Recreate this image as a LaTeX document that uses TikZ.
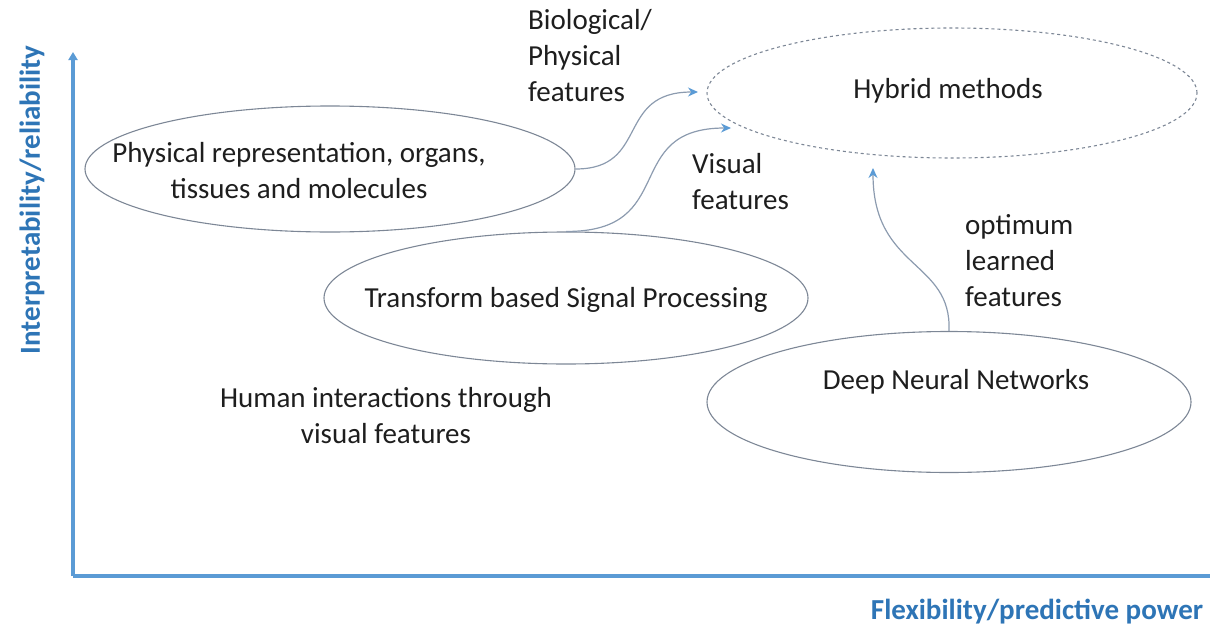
\documentclass[tikz,border=0pt]{standalone}
\usepackage{fontspec}
\setmainfont{Carlito}
\usetikzlibrary{shapes.geometric,arrows.meta}
\definecolor{axisblue}{RGB}{91,155,213}
\definecolor{labelblue}{RGB}{46,117,182}
\definecolor{ellgray}{RGB}{125,135,150}
\definecolor{conngray}{RGB}{140,155,175}
\definecolor{tipblue}{RGB}{91,155,213}
\definecolor{txt}{RGB}{30,30,30}
\begin{document}
\begin{tikzpicture}[x=1pt,y=-1pt,
  ell/.style={ellipse,draw=ellgray,line width=1.1pt,inner sep=0pt},
  hyb/.style={ellipse,draw=ellgray,line width=1.1pt,dash pattern=on 3pt off 3pt,inner sep=0pt},
  txtnode/.style={text=txt,font=\fontsize{29}{36}\selectfont,inner sep=0pt},
  axlabel/.style={text=labelblue,font=\fontsize{29}{34}\selectfont\bfseries,inner sep=0pt},
  axis/.style={draw=axisblue,line width=3.2pt},
  conn/.style={draw=conngray,line width=1.2pt,-{Stealth[length=10pt,width=9pt,color=tipblue]}}
]
\useasboundingbox (0,0) rectangle (1210,629);
% axes
\coordinate (origin) at (73,576);
\coordinate (ytop) at (73,52);
\coordinate (xend) at (1210,576);
\draw[axis,-{Triangle[length=8pt,width=9pt]}] (origin) -- (ytop);
\draw[axis] (origin) -- (xend);
\node[axlabel,rotate=90] (ylab) at (32,200) {Interpretability/reliability};
\node[axlabel] (xlab) at (1037,612) {Flexibility/predictive power};
% ellipses
\node[ell,minimum width=490pt,minimum height=126pt] (ph) at (330,169) {};
\node[ell,minimum width=484pt,minimum height=132pt] (ts) at (566,298) {};
\node[ell,minimum width=484pt,minimum height=141pt] (dn) at (949,402) {};
\node[hyb,minimum width=490pt,minimum height=130pt] (hy) at (952,93) {};
% texts
\node[txtnode,align=center] (phT) at (299,171) {Physical representation, organs,\\tissues and molecules};
\node[txtnode] (tsT) at (566,300) {Transform based Signal Processing};
\node[txtnode] (dnT) at (956,382) {Deep Neural Networks};
\node[txtnode] (hyT) at (948,91) {Hybrid methods};
\node[txtnode,align=left,anchor=west] (bio) at (528,56) {Biological/\\Physical\\features};
\node[txtnode,align=left,anchor=west] (vis) at (692,182) {Visual\\features};
\node[txtnode,align=left,anchor=west] (opt) at (965,261) {optimum\\learned\\features};
\node[txtnode,align=center] (hum) at (386,416) {Human interactions through\\visual features};
% connectors
\coordinate (a1) at (698,92);
\coordinate (a2) at (731,128);
\coordinate (a3) at (873,168);
\draw[conn] (ph.east) .. controls (650,169) and (615,92) .. (a1);
\draw[conn] (ts.north) .. controls (680,232) and (620,128) .. (a2);
\draw[conn] (dn.north) .. controls (952,260) and (873,270) .. (a3);
\end{tikzpicture}
\end{document}
